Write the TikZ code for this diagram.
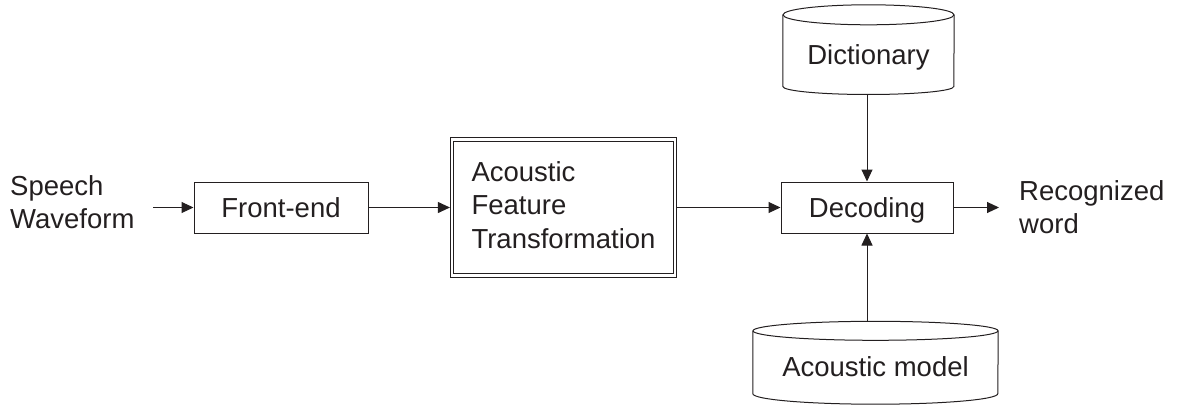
\documentclass[tikz,border=0pt]{standalone}
\usepackage{fontspec}
\setmainfont{Liberation Sans}
\usetikzlibrary{arrows.meta}
\definecolor{ink}{HTML}{231F20}
\begin{document}
\begin{tikzpicture}[x=1pt,y=-1pt,
  every node/.style={font=\fontsize{27.5}{33.3}\selectfont, text=ink, inner sep=0pt},
  oneline/.style={text height=19.7pt, text depth=0pt},
  box/.style={draw=ink, line width=1pt, rectangle, minimum height=51pt, oneline},
  dbox/.style={draw=ink, line width=1pt, double=white, double distance=2.2pt,
    rectangle, outer sep=2.1pt, align=left, text depth=5pt,
    minimum width=223pt, minimum height=136pt},
  store/.style={rectangle, minimum width=171pt},
  shell/.style={draw=ink, line width=1pt},
  conn/.style={draw=ink, line width=1pt, -{Triangle[length=12pt,width=11pt]}},
  txt/.style={align=left, anchor=north west}
]
\useasboundingbox (0,0) rectangle (1177,412);

% main processing chain
\node[box, minimum width=174pt] (fe) at (281,207.5) {Front-end};
\node[dbox] (atf) at (563.5,207.5) {Acoustic\\Feature\\Transformation};
\node[box, minimum width=172pt] (dec) at (867,207.5) {Decoding};

% knowledge sources (cylinders)
\node[store, minimum height=89.3pt, text height=30.4pt, text depth=0pt] (dict) at (868.5,49.65) {Dictionary};
\node[store, minimum width=245pt, minimum height=82.5pt, text height=27.6pt, text depth=0pt] (am) at (875.5,362.75) {Acoustic model};

% dictionary outline
\draw[shell] ([yshift=-10pt]dict.north west) -- ([yshift=8pt]dict.south west)
  arc[start angle=180, end angle=360, x radius=85.5pt, y radius=8pt]
  -- ([yshift=-10pt]dict.north east);
\draw[shell] ([yshift=-10pt]dict.north) ellipse[x radius=85.5pt, y radius=10pt];

% acoustic model outline
\draw[shell] ([yshift=-9.5pt]am.north west) -- ([yshift=10.5pt]am.south west)
  arc[start angle=180, end angle=360, x radius=122.5pt, y radius=10.5pt]
  -- ([yshift=-9.5pt]am.north east);
\draw[shell] ([yshift=-9.5pt]am.north) ellipse[x radius=122.5pt, y radius=9.5pt];

% input and output labels
\node[txt] (speech) at (10,175.5) {Speech\\Waveform};
\node[txt] (word) at (1019,180.5) {Recognized\\word};

\coordinate (src) at (153,207.5);
\coordinate (out) at (999,207.5);

% connectors
\draw[conn] (src) -- (fe.west);
\draw[conn] (fe.east) -- (atf.west);
\draw[conn] (atf.east) -- (dec.west);
\draw[conn] (dec.east) -- (out);
\draw[conn] (dict.south -| dec.north) -- (dec.north);
\draw[conn] (am.north -| dec.south) -- (dec.south);
\end{tikzpicture}
\end{document}
